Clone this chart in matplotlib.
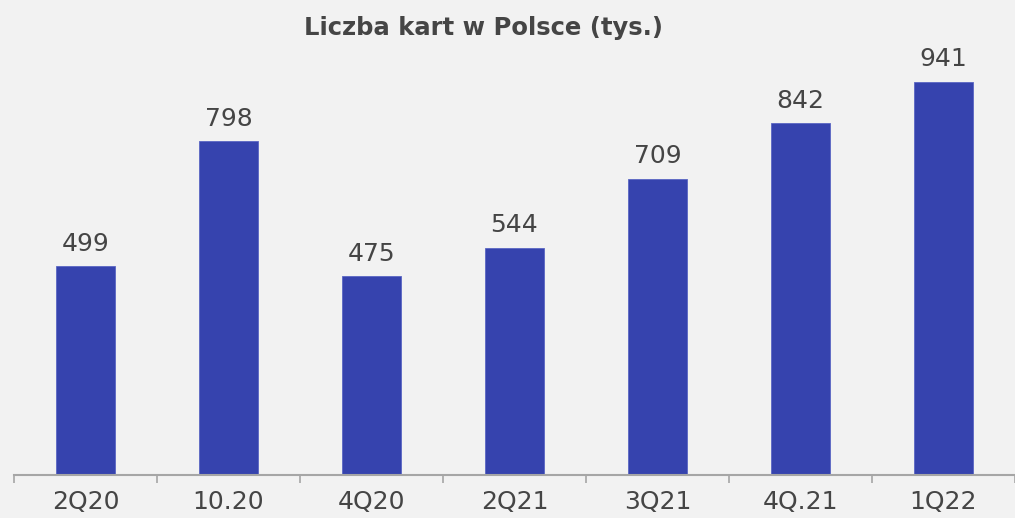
import matplotlib.pyplot as plt

categories = ["2Q20", "10.20", "4Q20", "2Q21", "3Q21", "4Q.21", "1Q22"]
values = [499, 798, 475, 544, 709, 842, 941]

BG = "#f2f2f2"
BAR = "#3643ae"
TEXT = "#454545"

plt.rcParams["font.family"] = ["DejaVu Sans"]

fig = plt.figure(figsize=(10.15, 5.18), dpi=100)
fig.patch.set_facecolor(BG)
ax = fig.add_axes([14 / 1015, 43 / 518, 1 - 14 / 1015, 475 / 518])
ax.set_facecolor(BG)

x = range(len(categories))
ax.bar(x, values, width=0.41, color=BAR, edgecolor="#5a66c4", linewidth=0.6)
for xi, v in zip(x, values):
    ax.annotate(f"{v}", (xi, v), xytext=(0, 11), textcoords="offset points",
                ha="center", va="baseline", fontsize=18, color=TEXT)

ax.set_xlim(-0.5, 6.4)
ax.set_ylim(0, 1136)
ax.set_yticks([])
ax.set_xticks([i - 0.5 for i in range(8)], minor=False)
ax.set_xticklabels([])
ax.set_xticks(list(x), minor=True)
ax.set_xticklabels(categories, minor=True, fontsize=18, color=TEXT)
ax.tick_params(axis="x", which="major", length=6, width=1.2, color="#a6a6a6", direction="out")
ax.tick_params(axis="x", which="minor", length=0, pad=11)
for side in ["top", "right", "left"]:
    ax.spines[side].set_visible(False)
ax.spines["bottom"].set_color("#a6a6a6")
ax.spines["bottom"].set_linewidth(1.5)

fig.text(483 / 1015, 1 - 28 / 518, "Liczba kart w Polsce (tys.)", ha="center", va="center",
         fontsize=17.5, fontweight="bold", color=TEXT)

fig.savefig("out.png", dpi=100, facecolor=fig.get_facecolor())
